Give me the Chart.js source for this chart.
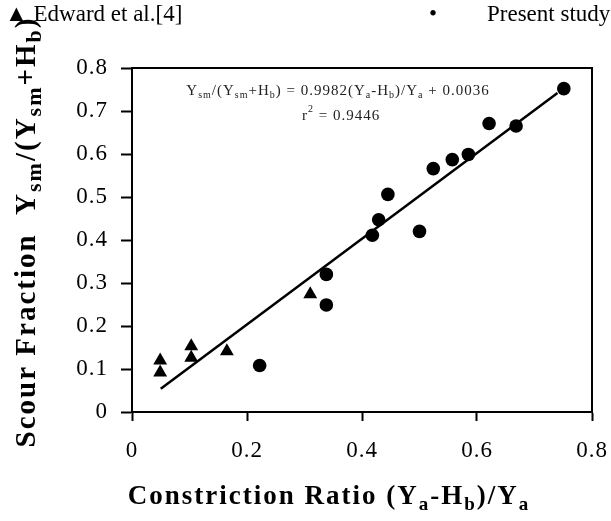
<!DOCTYPE html>
<html>
<head>
<meta charset="utf-8">
<script src="https://cdn.jsdelivr.net/npm/chart.js@4/dist/chart.umd.min.js"></script>
<style>
  html, body { margin: 0; padding: 0; background: #fff; }
  #wrap { width: 611px; height: 521px; position: relative; }
</style>
</head>
<body>
<div id="wrap"><canvas id="scour-canvas" width="611" height="521"></canvas></div>
<script>
// Edward et al.[4]
const edwardX = [0.049, 0.049, 0.103, 0.103, 0.165, 0.310];
const edwardY = [0.120, 0.092, 0.153, 0.126, 0.141, 0.274];

// Present study
const presentX = [0.222, 0.338, 0.338, 0.418, 0.429, 0.445, 0.500, 0.524, 0.557, 0.585, 0.621, 0.668, 0.751];
const presentY = [0.108, 0.320, 0.249, 0.411, 0.447, 0.506, 0.420, 0.566, 0.587, 0.599, 0.671, 0.665, 0.752];

// Линия тренда (концы)
const trendX = [0.05, 0.74];
const trendY = [0.054, 0.742];

const xTicks = [0, 0.2, 0.4, 0.6, 0.8];
const yTicks = [0, 0.1, 0.2, 0.3, 0.4, 0.5, 0.6, 0.7, 0.8];

const toPoints = (xs, ys) => xs.map((x, i) => ({ x: x, y: ys[i] }));

const SERIF = '"Liberation Serif", "Times New Roman", serif';

// Рисуем текст с подстрочными индексами: [текст, sub?]
const drawParts = (ctx, parts, x, y, size, bold, align, subRatio) => {
  const w = (t, s) => { ctx.font = (bold ? 'bold ' : '') + s + 'px ' + SERIF; return ctx.measureText(t).width; };
  const sub = Math.round(size * (subRatio || 0.65));
  let total = 0;
  parts.forEach(p => { total += w(p[0], p[1] ? sub : size); });
  let cx = align === 'center' ? x - total / 2 : x;
  parts.forEach(p => {
    const s = p[1] ? sub : size;
    const ww = w(p[0], s);
    ctx.fillText(p[0], cx, p[1] ? y + size * 0.22 : y);
    cx += ww;
  });
};

const decorPlugin = {
  id: 'decor',
  beforeDraw(chart) {
    // немного разрядки для подписей делений
    chart.ctx.letterSpacing = '1px';
  },
  afterDraw(chart) {
    const ctx = chart.ctx;
    const a = chart.chartArea;
    ctx.letterSpacing = '0px';
    ctx.save();
    // рамка вокруг области графика
    ctx.strokeStyle = '#000';
    ctx.lineWidth = 2;
    ctx.strokeRect(a.left, a.top, a.right - a.left, a.bottom - a.top);

    ctx.fillStyle = '#000';
    ctx.textAlign = 'left';
    ctx.textBaseline = 'alphabetic';

    // легенда
    ctx.font = '23px ' + SERIF;
    ctx.fillText('\u25B2 Edward et al.[4]', 5, 21);
    ctx.fillText('\u2022', 429, 21);
    ctx.fillText('Present study', 487, 21);

    // уравнение регрессии
    ctx.fillStyle = '#222';
    ctx.letterSpacing = '1px';
    drawParts(ctx, [['Y', 0], ['sm', 1], ['/(Y', 0], ['sm', 1], ['+H', 0], ['b', 1], [') = 0.9982(Y', 0], ['a', 1], ['-H', 0], ['b', 1], [')/Y', 0], ['a', 1], [' + 0.0036', 0]], 338, 95, 15, false, 'center');
    ctx.font = '15px ' + SERIF;
    ctx.fillText('r', 302, 120);
    ctx.font = '10px ' + SERIF;
    ctx.fillText('2', 308, 112);
    ctx.font = '15px ' + SERIF;
    ctx.fillText(' = 0.9446', 314, 120);

    // подпись оси X
    ctx.fillStyle = '#000';
    ctx.letterSpacing = '2px';
    drawParts(ctx, [['Constriction Ratio (Y', 0], ['a', 1], ['-H', 0], ['b', 1], [')/Y', 0], ['a', 1]], 329, 504, 27, true, 'center', 0.72);

    // подпись оси Y
    ctx.translate(35, 232);
    ctx.rotate(-Math.PI / 2);
    ctx.letterSpacing = '2px';
    drawParts(ctx, [['Scour Fraction  Y', 0], ['sm', 1], ['/(Y', 0], ['sm', 1], ['+H', 0], ['b', 1], [')', 0]], 0, 0, 29, true, 'center', 0.75);
    ctx.restore();
  }
};

const ctx = document.getElementById('scour-canvas').getContext('2d');

window.scourChart = new Chart(ctx, {
  type: 'scatter',
  data: {
    datasets: [
      {
        label: 'Edward et al.[4]',
        data: toPoints(edwardX, edwardY),
        pointStyle: 'triangle',
        pointRadius: 8,
        backgroundColor: '#000',
        borderColor: '#000',
        borderWidth: 0
      },
      {
        label: 'Present study',
        data: toPoints(presentX, presentY),
        pointStyle: 'circle',
        pointRadius: 6.8,
        backgroundColor: '#000',
        borderColor: '#000',
        borderWidth: 0
      },
      {
        label: 'trend',
        type: 'line',
        data: toPoints(trendX, trendY),
        borderColor: '#000',
        borderWidth: 2.5,
        pointRadius: 0,
        fill: false
      }
    ]
  },
  options: {
    responsive: false,
    animation: false,
    layout: { padding: { left: 0, top: 68, right: 19, bottom: 0 } },
    plugins: {
      legend: { display: false },
      tooltip: { enabled: false }
    },
    scales: {
      x: {
        type: 'linear',
        min: 0,
        max: 0.8,
        afterFit: s => { s.height = 109; s.paddingRight = 0; s.paddingLeft = 0; },
        afterBuildTicks: s => { s.ticks = xTicks.map(v => ({ value: v })); },
        grid: { drawOnChartArea: false, drawTicks: true, tickLength: 9, tickColor: '#000', tickWidth: 2 },
        border: { color: '#000', width: 2 },
        ticks: {
          color: '#000',
          font: { family: SERIF, size: 23 },
          padding: 16,
          maxRotation: 0,
          callback: v => String(v)
        }
      },
      y: {
        type: 'linear',
        min: 0,
        max: 0.8,
        afterFit: s => { s.width = 132; s.paddingTop = 0; s.paddingBottom = 0; },
        afterBuildTicks: s => { s.ticks = yTicks.map(v => ({ value: v })); },
        grid: { drawOnChartArea: false, drawTicks: true, tickLength: 11, tickColor: '#000', tickWidth: 2 },
        border: { color: '#000', width: 2 },
        ticks: {
          color: '#000',
          font: { family: SERIF, size: 23 },
          padding: 13,
          callback: v => String(v)
        }
      }
    }
  },
  plugins: [decorPlugin]
});
</script>
</body>
</html>
